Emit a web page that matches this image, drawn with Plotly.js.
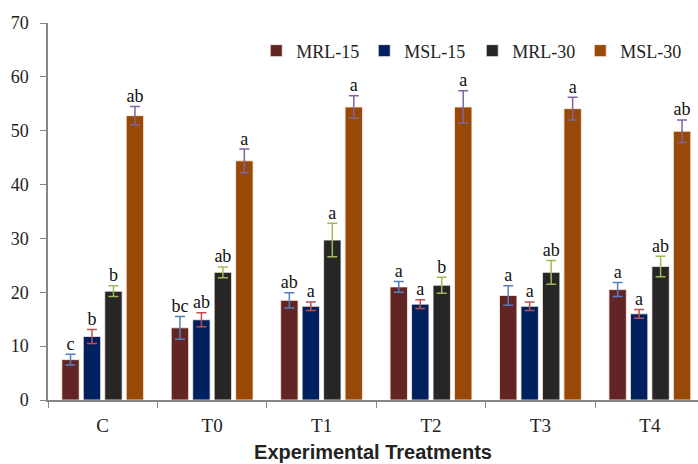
<!DOCTYPE html>
<html><head><meta charset="utf-8">
<script src="https://cdn.plot.ly/plotly-3.0.1.min.js"></script>
<style>html,body{margin:0;padding:0;background:#fff}#chart{width:698px;height:464px}</style>
</head><body><div id="chart"></div>
<script>
const categories = ["C", "T0", "T1", "T2", "T3", "T4"];
const seriesNames = ["MRL-15", "MSL-15", "MRL-30", "MSL-30"];
const mrl15 = [7.5, 13.4, 18.5, 21.0, 19.4, 20.5];
const msl15 = [11.8, 14.9, 17.4, 17.8, 17.4, 16.0];
const mrl30 = [20.2, 23.7, 29.7, 21.3, 23.7, 24.8];
const msl30 = [52.8, 44.4, 54.4, 54.4, 54.1, 49.9];
const mrl15Err = [1.0, 2.1, 1.4, 1.0, 1.8, 1.3];
const msl15Err = [1.3, 1.3, 0.8, 0.8, 0.8, 0.8];
const mrl30Err = [1.0, 1.0, 3.1, 1.5, 2.2, 1.9];
const msl30Err = [1.7, 2.2, 2.1, 3.0, 2.1, 2.1];
const mrl15Letters = ["c", "bc", "ab", "a", "a", "a"];
const msl15Letters = ["b", "ab", "a", "a", "a", "a"];
const mrl30Letters = ["b", "ab", "a", "b", "ab", "ab"];
const msl30Letters = ["ab", "a", "a", "a", "a", "ab"];

const values = [mrl15, msl15, mrl30, msl30];
const errs = [mrl15Err, msl15Err, mrl30Err, msl30Err];
const letters = [mrl15Letters, msl15Letters, mrl30Letters, msl30Letters];
const barColors = ["#632523", "#002060", "#262626", "#984807"];
const errColors = ["#4f81bd", "#c0504d", "#9bbb59", "#8064a2"];

const traces = [];
seriesNames.forEach((name, i) => {
  traces.push({
    type: "bar", name: name, x: categories, y: values[i],
    offsetgroup: "g" + i,
    marker: {color: barColors[i], line: {color: "rgba(255,240,230,0.8)", width: 1}},
    error_y: {type: "data", array: errs[i], visible: true, color: errColors[i], thickness: 1.5, width: 5}
  });
});
seriesNames.forEach((name, i) => {
  traces.push({
    type: "scatter", mode: "text", showlegend: false, hoverinfo: "skip",
    x: categories, y: values[i].map((v, k) => v + errs[i][k]),
    offsetgroup: "g" + i,
    text: letters[i], textposition: "top center",
    textfont: {family: "Liberation Serif, serif", size: 18, color: "#111"}
  });
});

const layout = {
  width: 698, height: 464,
  margin: {l: 48, r: 0, t: 23, b: 64},
  paper_bgcolor: "#fff", plot_bgcolor: "#fff",
  barmode: "group", bargap: 0.215, bargroupgap: 0.19,
  scattermode: "group", scattergap: 0.215,
  showlegend: true,
  legend: {orientation: "h", x: 0.985, xanchor: "right", y: 0.975, yanchor: "top",
    font: {family: "Liberation Serif, serif", size: 18, color: "#222"},
    entrywidth: 63, entrywidthmode: "pixels",
    itemwidth: 30, tracegroupgap: 0, bgcolor: "rgba(0,0,0,0)"},
  xaxis: {
    type: "category", range: [-0.5, 5.44],
    showline: true, linecolor: "#868686", linewidth: 1.5,
    ticks: "outside", tickson: "boundaries", ticklen: 6, tickcolor: "#868686",
    ticklabelstandoff: 7,
    tickfont: {family: "Liberation Serif, serif", size: 19, color: "#222"},
    title: {text: "Experimental Treatments", standoff: 10,
      font: {family: "Liberation Sans, Arial, sans-serif", size: 20, color: "#222", weight: "bold"}}
  },
  yaxis: {
    range: [0, 70], dtick: 10, showgrid: false, zeroline: false,
    showline: true, linecolor: "#868686", linewidth: 1.5,
    ticks: "outside", ticklen: 6, tickcolor: "#868686", ticklabelstandoff: 8,
    tickfont: {family: "Liberation Serif, serif", size: 18, color: "#222"}
  }
};
Plotly.newPlot("chart", traces, layout, {displayModeBar: false});
</script></body></html>
